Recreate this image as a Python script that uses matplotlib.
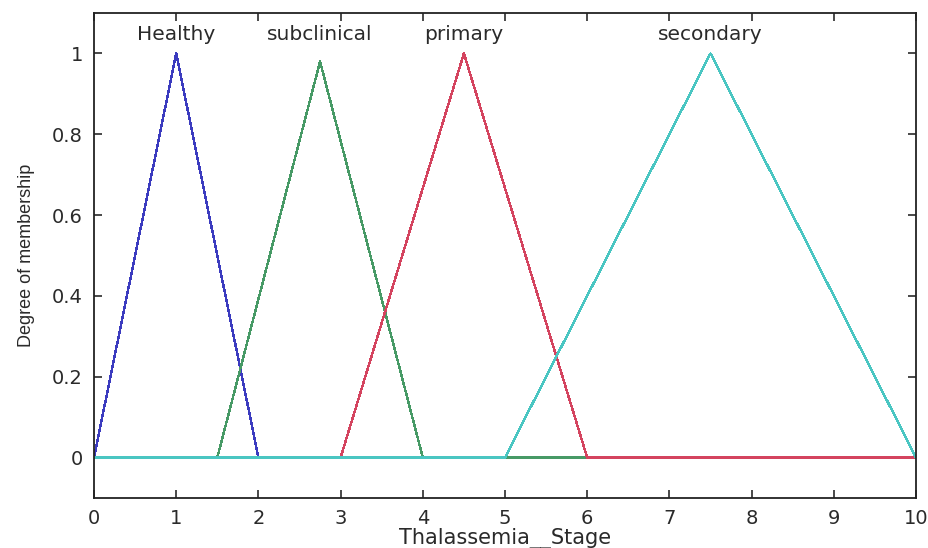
import numpy as np
import matplotlib
matplotlib.use("Agg")
import matplotlib.pyplot as plt

# membership functions (triangle vertices)
names = ["Healthy", "subclinical", "primary", "secondary"]
mf_x = [
    [0, 0, 1, 2, 10],
    [0, 1.5, 2.75, 4, 10],
    [0, 3, 4.5, 6, 10],
    [0, 5, 7.5, 10, 10],
]
mf_y = [
    [0, 0, 1, 0, 0],
    [0, 0, 0.98, 0, 0],
    [0, 0, 1, 0, 0],
    [0, 0, 1, 0, 0],
]
label_x = [1, 2.75, 4.5, 7.5]
colors = ["#3b3bbf", "#479a66", "#d4445f", "#4ac6c2"]

x_ticks = np.arange(0, 11, 1)
y_ticks = [0, 0.2, 0.4, 0.6, 0.8, 1]
y_ticklabels = ["0", "0.2", "0.4", "0.6", "0.8", "1"]

plt.rcParams['font.family'] = ['DejaVu Sans']

fig = plt.figure(figsize=(9.29, 5.48), dpi=100)
ax = fig.add_axes([94 / 929, 1 - 498 / 548, 822 / 929, 485 / 548])

for xs, ys, c in zip(mf_x, mf_y, colors):
    ax.plot(xs, ys, color=c, lw=1.0, antialiased=False)

for name, lx in zip(names, label_x):
    ax.text(lx, 1.047, name, ha='center', va='center', fontsize=14.5, color='#2a2a2a')

ax.set_xlim(0, 10)
ax.set_ylim(-0.1, 1.1)
ax.set_xticks(x_ticks)
ax.set_yticks(y_ticks)
ax.set_yticklabels(y_ticklabels)
ax.tick_params(direction='in', top=True, right=True, length=6, width=1.2,
               labelsize=14, colors='#2a2a2a', pad=8)
for s in ax.spines.values():
    s.set_linewidth(1.3)
    s.set_color('#222222')

ax.set_xlabel("Thalassemia__Stage", fontsize=15, color='#2a2a2a', labelpad=0)
ax.set_ylabel("Degree of membership", fontsize=13, color='#2a2a2a',
              family=['Liberation Sans Narrow', 'Liberation Sans'], labelpad=12)

fig.savefig("out.png", dpi=100)
